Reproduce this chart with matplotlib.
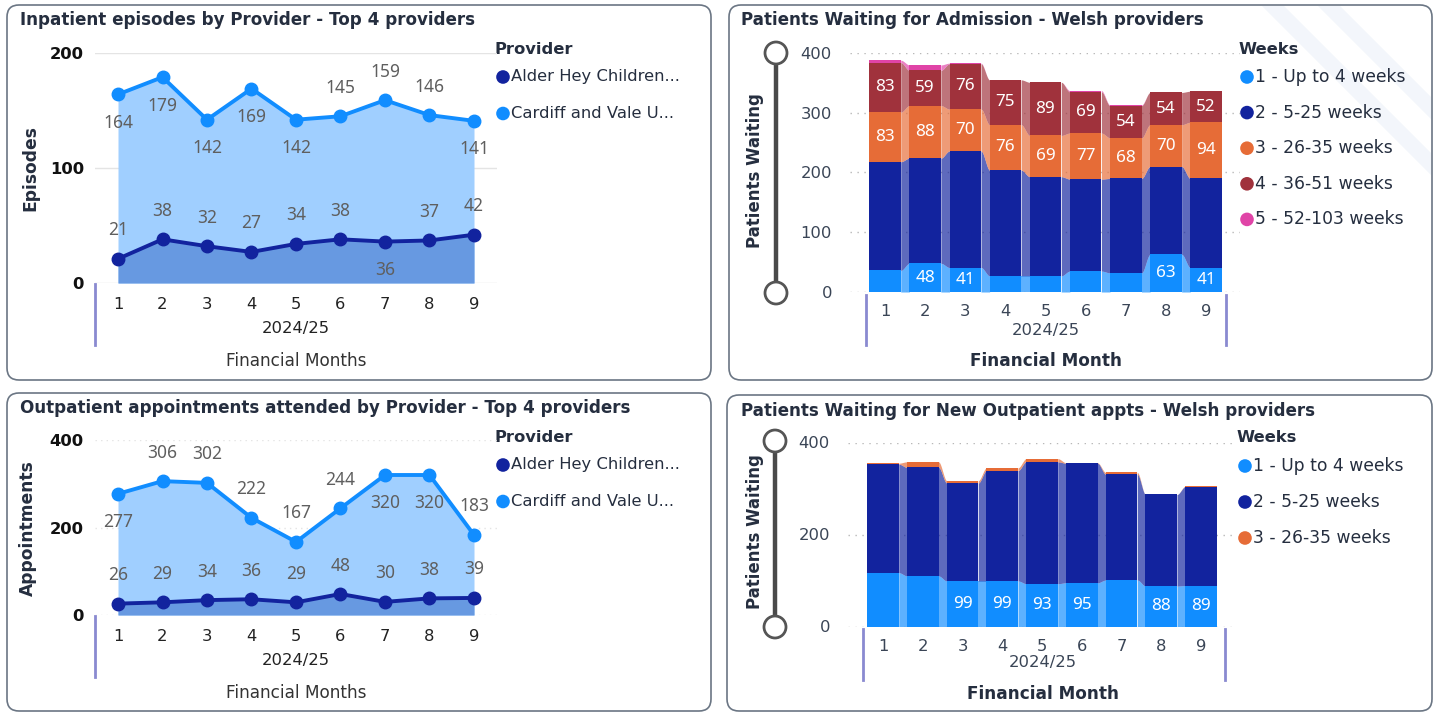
import numpy as np
import matplotlib
matplotlib.use("Agg")
import matplotlib.pyplot as plt
from matplotlib.patches import FancyBboxPatch, Circle, Polygon

# ---------------------------------------------------------------- data
months = [1, 2, 3, 4, 5, 6, 7, 8, 9]
month_labels = ["1", "2", "3", "4", "5", "6", "7", "8", "9"]
year_label = "2024/25"
providers = ["Alder Hey Children...", "Cardiff and Vale U..."]

# Inpatient episodes
ip_alder = [21, 38, 32, 27, 34, 38, 36, 37, 42]
ip_cardiff = [164, 179, 142, 169, 142, 145, 159, 146, 141]
ip_alder_side = [1, 1, 1, 1, 1, 1, -1, 1, 1]        # +1 label above, -1 below
ip_cardiff_side = [-1, -1, -1, -1, -1, 1, 1, 1, -1]

# Outpatient appointments attended
op_alder = [26, 29, 34, 36, 29, 48, 30, 38, 39]
op_cardiff = [277, 306, 302, 222, 167, 244, 320, 320, 183]
op_alder_side = [1, 1, 1, 1, 1, 1, 1, 1, 1]
op_cardiff_side = [-1, 1, 1, 1, 1, 1, -1, -1, 1]

# Patients waiting for admission
adm_weeks = ["1 - Up to 4 weeks", "2 - 5-25 weeks", "3 - 26-35 weeks",
             "4 - 36-51 weeks", "5 - 52-103 weeks"]
adm_w1 = [36, 48, 41, 27, 27, 35, 32, 63, 41]
adm_w2 = [182, 176, 195, 177, 166, 154, 158, 147, 149]
adm_w3 = [83, 88, 70, 76, 69, 77, 68, 70, 94]
adm_w4 = [83, 59, 76, 75, 89, 69, 54, 54, 52]
adm_w5 = [4, 9, 1, 0, 0, 2, 1, 0, 0]
adm_w1_labelled = [False, True, True, False, False, False, False, True, True]

# Patients waiting for new outpatient appointments
new_weeks = ["1 - Up to 4 weeks", "2 - 5-25 weeks", "3 - 26-35 weeks"]
new_w1 = [117, 110, 99, 99, 93, 95, 101, 88, 89]
new_w2 = [236, 236, 213, 240, 265, 260, 230, 199, 215]
new_w3 = [2, 12, 5, 6, 7, 1, 4, 0, 1]
new_w1_labelled = [False, False, True, True, True, True, False, True, True]

# ---------------------------------------------------------------- style
C_LIGHT = "#118DFF"
C_DARK = "#12239E"
C_ORANGE = "#E66C37"
C_MAROON = "#A0323C"
C_PINK = "#E044A7"
FILL_LIGHT = "#a0cfff"
FILL_DARK = "#6799e1"
TXT = "#252e3f"
TICK = "#3a4556"
LBL = "#5f5f5f"
SEP = "#8a8ad0"
FONT = "DejaVu Sans"
NUMFONT = ["Noto Sans", "DejaVu Sans"]

W, H = 1438, 713
fig = plt.figure(figsize=(W / 100, H / 100), dpi=100)
fig.patch.set_facecolor("white")

ov = fig.add_axes([0, 0, 1, 1], zorder=0)
ov.set_xlim(0, W)
ov.set_ylim(H, 0)
ov.axis("off")


def px_axes(left, top, right, bottom):
    ax = fig.add_axes([left / W, 1 - bottom / H, (right - left) / W, (bottom - top) / H], zorder=2)
    ax.patch.set_alpha(0)
    for sp in ax.spines.values():
        sp.set_visible(False)
    return ax


def text(x, y, s, size=11.8, weight="normal", color=TXT, ha="left", **kw):
    ov.text(x, y, s, fontsize=size, fontweight=weight, color=color, ha=ha,
            va="center", family=FONT, **kw)


def panel_box(x0, y0, x1, y1):
    ov.add_patch(FancyBboxPatch((x0, y0), x1 - x0, y1 - y0,
                                boxstyle="round,pad=0,rounding_size=12",
                                ec="#6b7684", fc="white", lw=1.2, zorder=0))


def legend(x, y0, title, names, colors, step, size=11.8):
    text(x - 8, y0 - 28, title, weight="bold", size=11.8)
    for i, (n, c) in enumerate(zip(names, colors)):
        yy = y0 + i * step
        ov.add_patch(Circle((x, yy), 6.8, fc=c, ec="none", zorder=3))
        text(x + 8, yy, n, size=size)


def slider(x, ytop, ybot):
    ov.plot([x, x], [ytop, ybot], color="#4a4a4a", lw=3.2, solid_capstyle="butt", zorder=2)
    for yy in (ytop, ybot):
        ov.add_patch(Circle((x, yy), 11, fc="white", ec="#555555", lw=2.0, zorder=3))


# ---------------------------------------------------------------- panel frames
panel_box(7, 5, 711, 380)
panel_box(729, 5, 1432, 380)
panel_box(7, 393, 711, 711)
panel_box(727, 395, 1432, 711)

# faint diagonal bands in the top-right corner
for (xa, w_band) in ((1262, 22), (1318, 22)):
    band = Polygon([(xa, 6), (xa + w_band, 6), (1431, 6 + 1431 - xa - w_band), (1431, 6 + 1431 - xa)],
                   closed=True, fc="#f3f6fb", ec="none", zorder=0.5)
    ov.add_patch(band)

# ---------------------------------------------------------------- line panels


def line_panel(ax, alder, cardiff, a_side, c_side, ymax, yticks, grid_ls):
    ax.set_xlim(1 - 23 / 44.5, 9 + 23 / 44.5)
    ax.set_ylim(0, ymax)
    ax.fill_between(months, 0, cardiff, color=FILL_LIGHT, lw=0, zorder=1)
    ax.fill_between(months, 0, alder, color=FILL_DARK, lw=0, zorder=1.5)
    ax.plot(months, cardiff, color=C_LIGHT, lw=2.8, marker="o", ms=9, zorder=3, clip_on=False)
    ax.plot(months, alder, color=C_DARK, lw=2.8, marker="o", ms=9, zorder=3, clip_on=False)
    for vals, sides in ((cardiff, c_side), (alder, a_side)):
        for m, v, s in zip(months, vals, sides):
            ax.annotate(str(v), (m, v), xytext=(0, 20.5 * s), textcoords="offset points",
                        ha="center", va="center", fontsize=12.5, color=LBL,
                        family=NUMFONT, zorder=4, annotation_clip=False)
    ax.set_yticks(yticks)
    ax.set_yticklabels([str(t) for t in yticks], fontweight="bold", color="#111111",
                       fontsize=11.8, family=FONT)
    ax.set_xticks(months)
    ax.set_xticklabels(month_labels, color="#222222", fontsize=11.8, family=FONT)
    ax.tick_params(axis="y", length=0, pad=8)
    ax.tick_params(axis="x", length=0, pad=10)
    ax.grid(axis="y", color="#e4e4e4", lw=1.0, ls=grid_ls, zorder=0)
    ax.set_axisbelow(True)


ax1 = px_axes(95, 53, 497, 283)
line_panel(ax1, ip_alder, ip_cardiff, ip_alder_side, ip_cardiff_side, 200, [0, 100, 200], "-")
text(20, 20, "Inpatient episodes by Provider - Top 4 providers", weight="bold", size=12.1)
text(30, 168, "Episodes", weight="bold", rotation=90, ha="center", size=12.3)
ov.plot([95, 95], [284, 345], color=SEP, lw=2, zorder=2)
text(296, 328, year_label, ha="center", color="#222222")
text(296, 361, "Financial Months", ha="center", color="#333333", size=12.2)
legend(503, 77, "Provider", providers, [C_DARK, C_LIGHT], 36.5)

ax3 = px_axes(95, 440, 497, 615)
line_panel(ax3, op_alder, op_cardiff, op_alder_side, op_cardiff_side, 400, [0, 200, 400], (0, (1, 3)))
text(20, 408, "Outpatient appointments attended by Provider - Top 4 providers", weight="bold", size=12.1)
text(28, 528, "Appointments", weight="bold", rotation=90, ha="center", size=12.3)
ov.plot([95, 95], [616, 677], color=SEP, lw=2, zorder=2)
text(296, 661, year_label, ha="center", color="#222222")
text(296, 693, "Financial Months", ha="center", color="#333333", size=12.2)
legend(503, 465, "Provider", providers, [C_DARK, C_LIGHT], 36.5)

# ---------------------------------------------------------------- ribbon panels


def ribbon_panel(ax, series, colors, label_flags, ymax, yticks, x_left, x_right, first_px, step_px):
    ax.set_xlim(1 - (first_px - x_left) / step_px, 9 + (x_right - (first_px + 8 * step_px)) / step_px)
    ax.set_ylim(0, ymax)
    x = np.array(months, dtype=float)
    w = 31.5 / step_px
    bottoms = np.zeros(len(months))
    t = np.linspace(0, 1, 40)
    f = t * t * (3 - 2 * t)
    for vals, col, flags in zip(series, colors, label_flags):
        vals = np.array(vals, dtype=float)
        ax.bar(x, vals, width=w, bottom=bottoms, color=col, lw=0, zorder=3)
        tops = bottoms + vals
        for i in range(len(months) - 1):
            if vals[i] == 0 and vals[i + 1] == 0:
                continue
            xs = np.linspace(x[i] + w / 2, x[i + 1] - w / 2, 40)
            lo = bottoms[i] + (bottoms[i + 1] - bottoms[i]) * f
            hi = tops[i] + (tops[i + 1] - tops[i]) * f
            ax.fill_between(xs, lo, hi, color=col, alpha=0.68, lw=0, zorder=2)
        for i in range(len(months)):
            if flags[i]:
                ax.text(x[i], bottoms[i] + vals[i] / 2, str(int(vals[i])), ha="center",
                        va="center", color="white", fontsize=12.3, family=NUMFONT, zorder=4)
        bottoms = tops
    ax.set_yticks(yticks)
    ax.set_yticklabels([str(v) for v in yticks], color=TICK, fontsize=11.8, family=FONT)
    ax.set_xticks(months)
    ax.set_xticklabels(month_labels, color=TICK, fontsize=11.8, family=FONT)
    ax.tick_params(axis="y", length=0, pad=13)
    ax.tick_params(axis="x", length=0, pad=9)
    ax.grid(axis="y", color="#b8b8b8", lw=1.0, ls=(0, (1, 4)), zorder=0)
    ax.set_axisbelow(True)


all_w = [True] * 9
none_w = [False] * 9

ax2 = px_axes(850, 53, 1240, 292)
ribbon_panel(ax2, [adm_w1, adm_w2, adm_w3, adm_w4, adm_w5],
             [C_LIGHT, C_DARK, C_ORANGE, C_MAROON, C_PINK],
             [adm_w1_labelled, none_w, all_w, all_w, none_w],
             400, [0, 100, 200, 300, 400], 850, 1240, 885, 40.125)
text(741, 20, "Patients Waiting for Admission - Welsh providers", weight="bold", size=12.1)
text(755, 171, "Patients Waiting", weight="bold", rotation=90, ha="center", size=12)
slider(776, 53, 293)
ov.plot([866, 866], [295, 345], color=SEP, lw=2, zorder=2)
ov.plot([1226, 1226], [295, 345], color=SEP, lw=2, zorder=2)
text(1046, 330, year_label, ha="center", color=TICK)
text(1046, 361, "Financial Month", ha="center", weight="bold", size=12.2)
legend(1247, 77, "Weeks", adm_weeks, [C_LIGHT, C_DARK, C_ORANGE, C_MAROON, C_PINK], 35.6, size=12.3)

ax4 = px_axes(848, 442.5, 1237, 626.5)
ribbon_panel(ax4, [new_w1, new_w2, new_w3],
             [C_LIGHT, C_DARK, C_ORANGE],
             [new_w1_labelled, none_w, none_w],
             400, [0, 200, 400], 848, 1237, 883, 39.75)
text(741, 411, "Patients Waiting for New Outpatient appts - Welsh providers", weight="bold", size=12.1)
text(755, 532, "Patients Waiting", weight="bold", rotation=90, ha="center", size=12)
slider(775, 441, 627)
ov.plot([863, 863], [629, 680], color=SEP, lw=2, zorder=2)
ov.plot([1225, 1225], [629, 680], color=SEP, lw=2, zorder=2)
text(1043, 663, year_label, ha="center", color=TICK)
text(1043, 694, "Financial Month", ha="center", weight="bold", size=12.2)
legend(1245, 466, "Weeks", new_weeks, [C_LIGHT, C_DARK, C_ORANGE], 36, size=12.3)

fig.savefig("out.png", dpi=100, facecolor="white")
